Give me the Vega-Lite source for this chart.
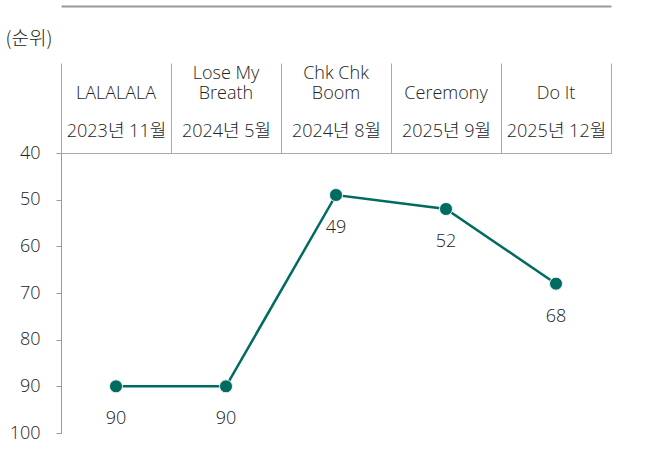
{
  "$schema": "https://vega.github.io/schema/vega-lite/v6.json",
  "width": 550,
  "height": 280,
  "padding": {"left": 5, "top": 6, "right": 40, "bottom": 15},
  "config": {
    "font": "Open Sans, Noto Sans CJK KR",
    "view": {"stroke": null},
    "axis": {"labelFont": "Open Sans, Noto Sans CJK KR", "labelFontSize": 18, "labelFontWeight": 300, "labelColor": "#222222", "grid": false}
  },
  "data": {
    "values": [
      {"song": "LALALALA", "date": "2023년 11월", "rank": 90},
      {"song": "Lose My Breath", "date": "2024년 5월", "rank": 90},
      {"song": "Chk Chk Boom", "date": "2024년 8월", "rank": 49},
      {"song": "Ceremony", "date": "2025년 9월", "rank": 52},
      {"song": "Do It", "date": "2025년 12월", "rank": 68}
    ]
  },
  "encoding": {
    "y": {
      "field": "rank",
      "type": "quantitative",
      "scale": {"domain": [40, 100], "reverse": true, "nice": false, "zero": false},
      "axis": {
        "values": [40, 50, 60, 70, 80, 90, 100],
        "title": "(순위)",
        "titleFont": "Noto Sans CJK KR",
        "titleAngle": 0,
        "titleAlign": "left",
        "titleBaseline": "middle",
        "titleX": -56,
        "titleY": -115,
        "titleFontSize": 19,
        "titleFontWeight": 300,
        "titleColor": "#222222",
        "tickSize": 5,
        "tickColor": "#999999",
        "domainColor": "#999999",
        "labelPadding": 16
      }
    }
  },
  "layer": [
    {
      "mark": {
        "type": "line", "color": "#006b5f", "strokeWidth": 2.5,
        "point": {"filled": true, "size": 170, "color": "#006b5f", "stroke": "#f4f0ff", "strokeWidth": 1, "opacity": 1}
      },
      "encoding": {
        "x": {
          "field": "song", "type": "nominal", "sort": null,
          "scale": {"type": "band", "paddingInner": 0, "paddingOuter": 0},
          "axis": {
            "orient": "top", "title": null, "ticks": false,
            "domain": true, "domainColor": "#999999", "domainWidth": 2,
            "offset": 147, "labelPadding": -76, "labelAngle": 0,
            "labelLineHeight": 20,
            "labelExpr": "datum.label == 'Lose My Breath' ? ['Lose My', 'Breath'] : datum.label == 'Chk Chk Boom' ? ['Chk Chk', 'Boom'] : ['', datum.label]"
          }
        }
      }
    },
    {
      "mark": {"type": "text", "dy": 33, "fontSize": 18, "fontWeight": 300, "color": "#222222"},
      "encoding": {
        "x": {
          "field": "date", "type": "nominal", "sort": null,
          "scale": {"type": "band", "paddingInner": 0, "paddingOuter": 0},
          "axis": {
            "orient": "top", "title": null, "tickBand": "extent", "tickSize": 90,
            "tickColor": "#aaaaaa", "domainColor": "#aaaaaa",
            "labelPadding": -77, "labelAngle": 0
          }
        },
        "text": {"field": "rank", "type": "quantitative"}
      }
    }
  ],
  "resolve": {"scale": {"x": "independent"}, "axis": {"x": "independent"}}
}
